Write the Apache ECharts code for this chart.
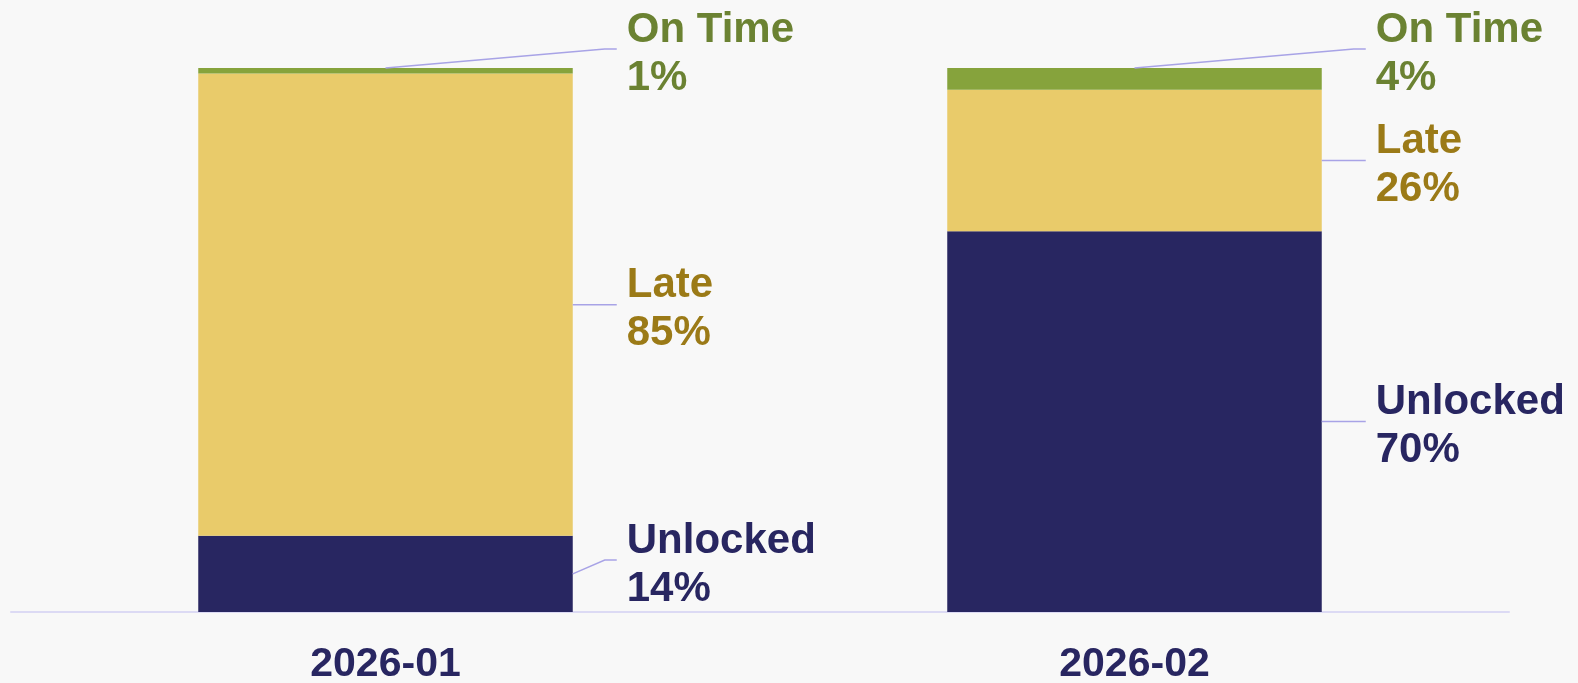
<!DOCTYPE html>
<html>
<head>
<meta charset="utf-8">
<script src="https://cdn.jsdelivr.net/npm/echarts@6/dist/echarts.min.js"></script>
<style>
  html, body { margin: 0; padding: 0; background: #f8f8f8; }
  #chart { width: 1578px; height: 683px; }
</style>
</head>
<body>
<div id="chart"></div>
<script>
  // data
  var months = ['2026-01', '2026-02'];
  var seriesNames = ['Unlocked', 'Late', 'On Time'];
  var unlocked = [14, 70];
  var late = [85, 26];
  var onTime = [1, 4];

  var barColors = ['#282661', '#e9cb6a', '#86a33c'];
  var textColors = ['#282661', '#9b7a17', '#6b8232'];
  var values = [unlocked, late, onTime];

  // where the leader line of a segment starts and ends (pixel rect of the segment)
  function leaderGeom(x, y, w, h, s) {
    var lineEnd = x + w + 44;
    var anchor, ly;
    if (s === 2) {
      anchor = [x + w / 2, y];
      ly = y - 19;
    } else {
      anchor = [x + w, y + h / 2];
      ly = y + h / 2;
      if (s === 0) ly = Math.min(ly, y + h - 52);
    }
    return { anchor: anchor, lineEnd: lineEnd, ly: ly };
  }

  function layoutFor(s) {
    return function (params) {
      var r = params.rect;
      var g = leaderGeom(r.x, r.y, r.width, r.height, s);
      return { x: g.lineEnd + 10, y: g.ly + 5, align: 'left', verticalAlign: 'middle' };
    };
  }

  var series = [];
  for (var i = 0; i < seriesNames.length; i++) {
    series.push({
      name: seriesNames[i],
      type: 'bar',
      stack: 'total',
      barWidth: '50%',
      data: values[i],
      itemStyle: { color: barColors[i] },
      label: {
        show: true,
        position: 'right',
        formatter: '{a}\n{c}%',
        color: textColors[i],
        fontFamily: 'Liberation Sans, Arial, sans-serif',
        fontWeight: 'bold',
        fontSize: 42,
        lineHeight: 48
      },
      labelLayout: layoutFor(i)
    });
  }

  // leader lines: one row per segment [category, base, top, series]
  var leaderData = [];
  for (var j = 0; j < months.length; j++) {
    var base = 0;
    for (var s = 0; s < values.length; s++) {
      leaderData.push([j, base, base + values[s][j], s]);
      base += values[s][j];
    }
  }

  series.push({
    type: 'custom',
    silent: true,
    clip: false,
    z: 5,
    encode: { x: 0, y: 2 },
    data: leaderData,
    renderItem: function (params, api) {
      var cat = api.value(0);
      var pTop = api.coord([cat, api.value(2)]);
      var pBase = api.coord([cat, api.value(1)]);
      var bw = api.size([1, 0])[0] * 0.5;
      var g = leaderGeom(pTop[0] - bw / 2, pTop[1], bw, pBase[1] - pTop[1], api.value(3));
      return {
        type: 'polyline',
        shape: { points: [g.anchor, [g.lineEnd - 12, g.ly], [g.lineEnd, g.ly]] },
        style: { stroke: '#a8a3e6', lineWidth: 1.5, fill: null }
      };
    }
  });

  var chart = echarts.init(document.getElementById('chart'));
  chart.setOption({
    backgroundColor: '#f8f8f8',
    animation: false,
    grid: { left: 11, right: 69, top: 68, bottom: 71, outerBoundsMode: 'none' },
    xAxis: {
      type: 'category',
      data: months,
      axisLine: { lineStyle: { color: '#dcdaf4', width: 2 } },
      axisTick: { show: false },
      axisLabel: {
        margin: 32,
        color: '#282661',
        fontFamily: 'Liberation Sans, Arial, sans-serif',
        fontWeight: 'bold',
        fontSize: 41
      }
    },
    yAxis: {
      type: 'value',
      min: 0,
      max: 100,
      show: false
    },
    series: series
  });
</script>
</body>
</html>
